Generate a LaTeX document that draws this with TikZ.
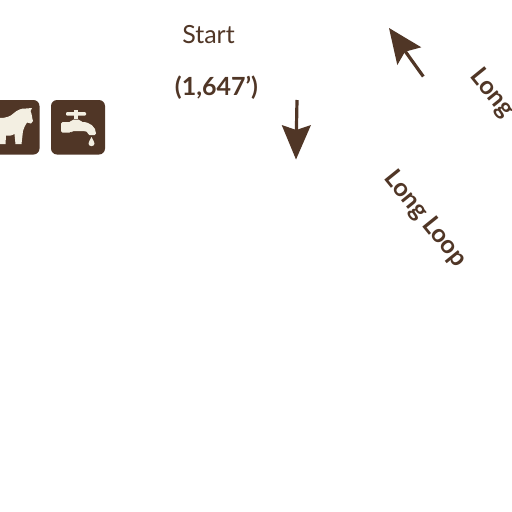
\documentclass[tikz,border=0pt]{standalone}
\usepackage{fontspec}
\setmainfont{Lato}
\definecolor{brn}{HTML}{503626}
\definecolor{crm}{HTML}{F3EFE2}
\tikzset{
  lbl/.style={text=brn,inner sep=0pt,font=\fontsize{25}{30}\selectfont},
  lblb/.style={text=brn,inner sep=0pt,font=\fontsize{25}{30}\selectfont\bfseries},
  iconbox/.style={fill=brn,rounded corners=6pt},
  glyph/.style={fill=crm},
  shaft/.style={draw=brn,line width=3.2pt},
  headfill/.style={fill=brn}
}
\begin{document}
\begin{tikzpicture}[x=1pt,y=-1pt]
\useasboundingbox (0,0) rectangle (512,512);
\clip (0,0) rectangle (512,512);
% text
\node[lbl] (start) at (208.5,35) {Start};
\node[lblb] (elev) at (216.5,87.5) {(1,647’)};
\node[lblb,rotate=-51] (loopa) at (425,219) {Long Loop};
\node[lblb,rotate=-51,anchor=west] (loopb) at (475,72) {Long};
% arrows
\draw[shaft] (297,100) -- (296.4,131);
\fill[headfill] (296,159.5) -- (281.7,125) -- (296.3,130) -- (311,125) -- cycle;
\draw[shaft] (423.3,76.5) -- (405,51);
\fill[headfill] (389,28) -- (421.3,47.3) -- (405,51.7) -- (397.3,65) -- cycle;
% horse icon
\fill[iconbox] (-15,100) rectangle (39.5,154.5);
\fill[glyph] (0,118) .. controls (5,118) and (10,117) .. (14,113)
  .. controls (17,110) and (22,108) .. (26,108.5) -- (32,108) -- (30.5,111)
  .. controls (32,114) and (32,118) .. (33,121) -- (31,123.5) -- (27,122.5)
  .. controls (25,125) and (24,128) .. (23,131) -- (21.5,144) -- (15.5,144) -- (14.5,134)
  .. controls (11,136) and (8,136) .. (6,135.5) -- (5.5,144) -- (0,144) -- cycle;
% tap icon
\fill[iconbox] (51,100) rectangle (105,154.5);
\begin{scope}[glyph]
\fill[rounded corners=1pt] (66,112) rectangle (86,115.5);
\fill (74,109.5) rectangle (77.5,119);
\fill[rounded corners=1.5pt] (61,122) -- (71,122) -- (72,119.5) -- (80,119.5) -- (81,122)
  .. controls (90,122) and (96,127) .. (96,135) -- (88,135)
  .. controls (88,132) and (86,131) .. (82,131) -- (72,131) -- (71,132.5) -- (61,132.5) -- cycle;
\fill (91.5,137) .. controls (92.5,140) and (94.5,141) .. (94.5,143.5)
  .. controls (94.5,147) and (88.5,147) .. (88.5,143.5)
  .. controls (88.5,141) and (90.5,140) .. (91.5,137) -- cycle;
\end{scope}
\end{tikzpicture}
\end{document}
